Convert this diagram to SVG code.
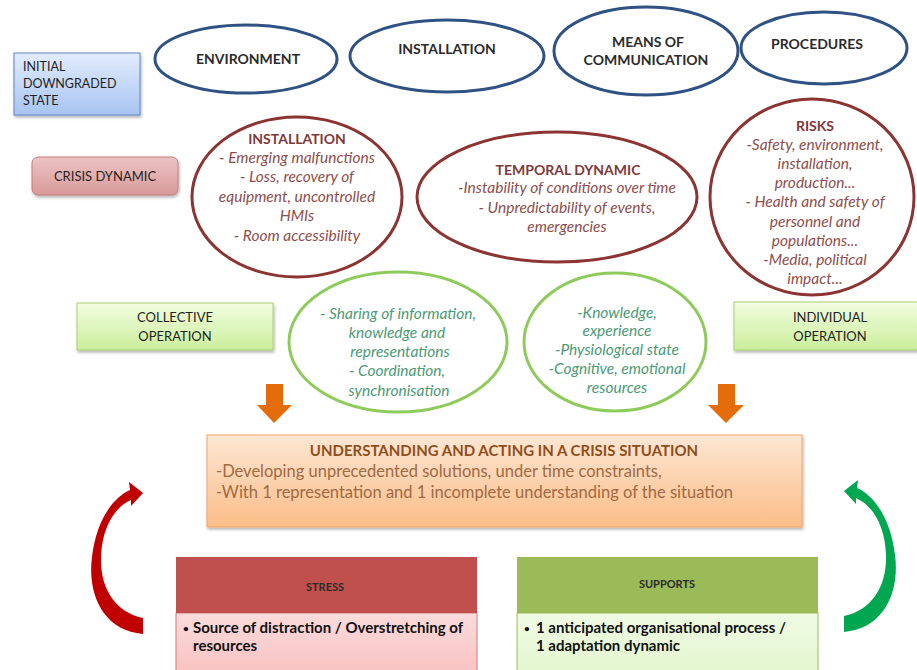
<svg xmlns="http://www.w3.org/2000/svg" width="917" height="670" viewBox="0 0 917 670">
  <defs>
    <style>
      text { font-family: Lato, "Liberation Sans", sans-serif; }
      .cap { font-size: 13px; fill: #1f1f1f; }
      .small { font-size: 12.5px; }
      .topl { font-size: 14px; font-weight: bold; fill: #2b2b2b; text-anchor: middle; }
      .blue { fill: none; stroke: #2f5283; stroke-width: 3; }
      .red { fill: none; stroke: #8c3432; stroke-width: 3; }
      .green { fill: none; stroke: #8ecb5b; stroke-width: 3; }
      .rtitle { font-size: 14px; font-weight: bold; fill: #7e3a38; text-anchor: middle; }
      .ritem { font-size: 15.5px; font-style: italic; fill: #8e4e4c; text-anchor: middle; }
      .gitem { font-size: 15.5px; font-style: italic; fill: #4c9a76; text-anchor: middle; }
      .mid { text-anchor: middle; }
      .hdr { font-size: 11px; font-weight: bold; fill: #2a2a2a; text-anchor: middle; }
      .body { font-size: 15px; font-weight: bold; fill: #111; }
      .dot { font-size: 10px; font-weight: bold; fill: #111; }
      .otitle { font-size: 15px; font-weight: bold; fill: #8f4f1c; text-anchor: middle; }
      .oitem { font-size: 16.5px; fill: #a16a42; }
      .drop { fill: #e46c0a; }
    </style>
    <linearGradient id="gBlue" x1="0" y1="0" x2="0" y2="1">
      <stop offset="0" stop-color="#e2ecfc"/>
      <stop offset="1" stop-color="#a8c4f1"/>
    </linearGradient>
    <linearGradient id="gPink" x1="0" y1="0" x2="0" y2="1">
      <stop offset="0" stop-color="#ecc4c4"/>
      <stop offset="1" stop-color="#d9999a"/>
    </linearGradient>
    <linearGradient id="gLime" x1="0" y1="0" x2="0" y2="1">
      <stop offset="0" stop-color="#f2fde0"/>
      <stop offset="1" stop-color="#cbee9c"/>
    </linearGradient>
    <linearGradient id="gOrange" x1="0" y1="0" x2="0" y2="1">
      <stop offset="0" stop-color="#fde7d4"/>
      <stop offset="1" stop-color="#fbbd88"/>
    </linearGradient>
    <linearGradient id="gRose" x1="0" y1="0" x2="0" y2="1">
      <stop offset="0" stop-color="#fbdcdc"/>
      <stop offset="1" stop-color="#f9c2c2"/>
    </linearGradient>
    <linearGradient id="gMint" x1="0" y1="0" x2="0" y2="1">
      <stop offset="0" stop-color="#f0fbe4"/>
      <stop offset="1" stop-color="#e3f6cf"/>
    </linearGradient>
    <filter id="shadow" x="-5%" y="-10%" width="112%" height="130%">
      <feDropShadow dx="1" dy="2" stdDeviation="1.5" flood-color="#000" flood-opacity="0.3"/>
    </filter>
    <!-- curved arrow body, drawn once, reused mirrored for the right side -->
    <path id="bend" d="M143,634 C104,631 87,595 92,557 C96,522 112,498 130,490 L129,482 L143,493 L131,506 L131,500 C115,507 102,527 101,557 C100,588 115,612 143,618 Z"/>
  </defs>

  <rect width="917" height="670" fill="#ffffff"/>

  <!-- context boxes -->
  <g id="initial-state">
    <rect x="14" y="53" width="126" height="62" fill="url(#gBlue)" stroke="#5f86c4" stroke-width="1" filter="url(#shadow)"/>
    <text class="cap small" x="23" y="71">INITIAL</text>
    <text class="cap small" x="23" y="88">DOWNGRADED</text>
    <text class="cap small" x="23" y="105">STATE</text>
  </g>

  <g id="environment">
    <ellipse class="blue" cx="246" cy="59" rx="91" ry="34"/>
    <text class="topl" x="248" y="64">ENVIRONMENT</text>
  </g>
  <g id="installation-top">
    <ellipse class="blue" cx="447" cy="56" rx="97" ry="36"/>
    <text class="topl" x="447" y="54">INSTALLATION</text>
  </g>
  <g id="means-of-communication">
    <ellipse class="blue" cx="646" cy="51" rx="92" ry="44"/>
    <text class="topl" x="648" y="47">MEANS OF</text>
    <text class="topl" x="646" y="65">COMMUNICATION</text>
  </g>
  <g id="procedures">
    <ellipse class="blue" cx="824" cy="48" rx="83" ry="36"/>
    <text class="topl" x="817" y="49">PROCEDURES</text>
  </g>

  <!-- crisis dynamic row -->
  <g id="crisis-dynamic">
    <rect x="32" y="157" width="146" height="38" rx="6" fill="url(#gPink)" stroke="#c27b7b" stroke-width="1" filter="url(#shadow)"/>
    <text class="cap mid" x="105" y="181">CRISIS DYNAMIC</text>
  </g>
  <g id="installation">
    <ellipse class="red" cx="297" cy="197" rx="105" ry="80"/>
    <text class="rtitle" x="297" y="144">INSTALLATION</text>
    <text class="ritem" x="297" y="163">- Emerging malfunctions</text>
    <text class="ritem" x="297" y="182">- Loss, recovery of</text>
    <text class="ritem" x="297" y="202">equipment, uncontrolled</text>
    <text class="ritem" x="297" y="221">HMIs</text>
    <text class="ritem" x="297" y="241">- Room accessibility</text>
  </g>
  <g id="temporal-dynamic">
    <ellipse class="red" cx="557" cy="197" rx="140" ry="65"/>
    <text class="rtitle" x="568" y="175">TEMPORAL DYNAMIC</text>
    <text class="ritem" x="567" y="193">-Instability of conditions over time</text>
    <text class="ritem" x="567" y="213">- Unpredictability of events,</text>
    <text class="ritem" x="567" y="232">emergencies</text>
  </g>
  <g id="risks">
    <ellipse class="red" cx="812" cy="197" rx="102" ry="98"/>
    <text class="rtitle" x="815" y="131">RISKS</text>
    <text class="ritem" x="815" y="150">-Safety, environment,</text>
    <text class="ritem" x="815" y="169">installation,</text>
    <text class="ritem" x="815" y="188">production...</text>
    <text class="ritem" x="815" y="207">- Health and safety of</text>
    <text class="ritem" x="815" y="227">personnel and</text>
    <text class="ritem" x="815" y="246">populations...</text>
    <text class="ritem" x="815" y="265">-Media, political</text>
    <text class="ritem" x="815" y="284">impact...</text>
  </g>

  <!-- operation row -->
  <g id="collective-operation">
    <rect x="77" y="303" width="196" height="47" fill="url(#gLime)" stroke="#a9cf72" stroke-width="1" filter="url(#shadow)"/>
    <text class="cap mid" x="175" y="322">COLLECTIVE</text>
    <text class="cap mid" x="175" y="341">OPERATION</text>
  </g>
  <g id="collective-factors">
    <ellipse class="green" cx="398" cy="342" rx="109" ry="70"/>
    <text class="gitem" x="398" y="319">- Sharing of information,</text>
    <text class="gitem" x="397" y="338">knowledge and</text>
    <text class="gitem" x="400" y="357">representations</text>
    <text class="gitem" x="397" y="376">- Coordination,</text>
    <text class="gitem" x="399" y="396">synchronisation</text>
  </g>
  <g id="individual-factors">
    <ellipse class="green" cx="615" cy="342" rx="91" ry="69"/>
    <text class="gitem" x="617" y="318">-Knowledge,</text>
    <text class="gitem" x="617" y="336">experience</text>
    <text class="gitem" x="617" y="355">-Physiological state</text>
    <text class="gitem" x="617" y="374">-Cognitive, emotional</text>
    <text class="gitem" x="617" y="393">resources</text>
  </g>
  <g id="individual-operation">
    <rect x="734" y="302" width="190" height="48" fill="url(#gLime)" stroke="#a9cf72" stroke-width="1" filter="url(#shadow)"/>
    <text class="cap mid" x="830" y="322">INDIVIDUAL</text>
    <text class="cap mid" x="830" y="341">OPERATION</text>
  </g>

  <!-- central outcome -->
  <g id="understanding-acting">
    <rect x="207" y="435" width="595" height="92" fill="url(#gOrange)" stroke="#f2a66a" stroke-width="1" filter="url(#shadow)"/>
    <text class="otitle" x="504" y="456">UNDERSTANDING AND ACTING IN A CRISIS SITUATION</text>
    <text class="oitem" x="216" y="477">-Developing unprecedented solutions, under time constraints,</text>
    <text class="oitem" x="216" y="498">-With 1 representation and 1 incomplete understanding of the situation</text>
  </g>

  <!-- bottom tables -->
  <g id="stress">
    <rect x="176" y="613" width="301" height="60" fill="url(#gRose)" stroke="#d47a78" stroke-width="1"/>
    <rect x="176" y="557" width="301" height="56" fill="#c0504d"/>
    <text class="hdr" x="325" y="591">STRESS</text>
    <text class="dot" x="183" y="632">•</text>
    <text class="body" x="193" y="633">Source of distraction / Overstretching  of</text>
    <text class="body" x="193" y="651">resources</text>
  </g>
  <g id="supports">
    <rect x="517" y="613" width="301" height="60" fill="url(#gMint)" stroke="#9bbb59" stroke-width="1"/>
    <rect x="517" y="557" width="301" height="56" fill="#9bbb59"/>
    <text class="hdr" x="667" y="588">SUPPORTS</text>
    <text class="dot" x="524" y="632">•</text>
    <text class="body" x="536" y="633">1 anticipated organisational process /</text>
    <text class="body" x="536" y="651">1 adaptation dynamic</text>
  </g>

  <!-- connectors -->
  <g id="connectors">
    <path class="drop" d="M266,384 H283 V405 H292 L274,423 L257,405 H266 Z"/>
    <path class="drop" d="M718,384 H735 V405 H744 L726,423 L708,405 H718 Z"/>
    <use href="#bend" fill="#c00000"/>
    <use href="#bend" fill="#00a650" transform="translate(987,-2) scale(-1,1)"/>
  </g>
</svg>
